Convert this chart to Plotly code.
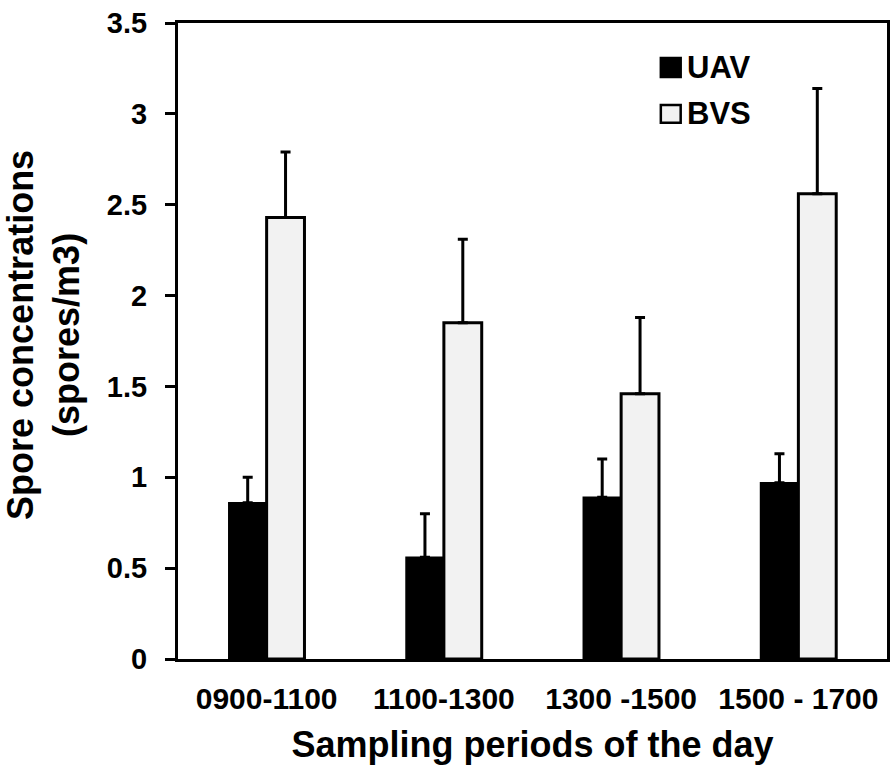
import plotly.graph_objects as go

# Sampling periods and mean spore concentrations (spores/m3) with upper error
periods = ["0900-1100", "1100-1300", "1300 -1500", "1500 - 1700"]
uav_mean = [0.86, 0.56, 0.89, 0.97]
uav_err = [0.14, 0.24, 0.21, 0.16]
bvs_mean = [2.43, 1.85, 1.46, 2.56]
bvs_err = [0.36, 0.46, 0.42, 0.58]

y_ticks = [0, 0.5, 1, 1.5, 2, 2.5, 3, 3.5]
y_tick_text = ["0", "0.5", "1", "1.5", "2", "2.5", "3", "3.5"]

series_names = ["UAV", "BVS"]

FONT = "Liberation Sans, Arial, sans-serif"
BVS_FILL = "#f2f2f2"


def upper_error(values):
    return dict(
        type="data",
        array=values,
        arrayminus=[0] * len(values),
        symmetric=False,
        color="black",
        thickness=3,
        width=5,
    )


fig = go.Figure()
fig.add_trace(go.Bar(
    x=periods, y=uav_mean, name=series_names[0],
    marker=dict(color="black", line=dict(color="black", width=1.5)),
    error_y=upper_error(uav_err),
))
fig.add_trace(go.Bar(
    x=periods, y=bvs_mean, name=series_names[1],
    marker=dict(color=BVS_FILL, line=dict(color="black", width=3)),
    error_y=upper_error(bvs_err),
))

# Legend drawn as boxed swatches with bold labels inside the plot frame
legend_rows = [
    (series_names[0], "black", 0.945, 0.915, 0.930),
    (series_names[1], BVS_FILL, 0.871, 0.843, 0.857),
]
for label, fill, y1, y0, ytxt in legend_rows:
    fig.add_shape(
        type="rect", xref="paper", yref="paper",
        x0=0.681, x1=0.709, y0=y0, y1=y1,
        fillcolor=fill, line=dict(color="black", width=2.5),
    )
    fig.add_annotation(
        x=0.715, y=ytxt, xref="paper", yref="paper",
        text=label, showarrow=False, xanchor="left", yanchor="middle",
        font=dict(family=FONT, size=31, color="black", weight="bold"),
    )

# Two-line vertical y-axis title
fig.add_annotation(
    x=-0.19, y=0.51, xref="paper", yref="paper",
    text="Spore concentrations<br>(spores/m3)",
    textangle=-90, showarrow=False,
    xanchor="center", yanchor="middle",
    font=dict(family=FONT, size=36, color="black", weight="bold"),
)

fig.update_layout(
    width=891, height=771,
    margin=dict(l=178, r=1, t=23, b=112),
    paper_bgcolor="white", plot_bgcolor="white",
    barmode="group", bargap=0.573, bargroupgap=0,
    showlegend=False,
    font=dict(family=FONT, color="black", weight="bold"),
)

fig.update_xaxes(
    type="category", range=[-0.5, 3.5],
    showline=True, linecolor="black", linewidth=3, mirror=True,
    ticks="", showgrid=False,
    tickfont=dict(family=FONT, size=30, color="black", weight="bold"),
    ticklabelstandoff=11,
    title=dict(
        text="Sampling periods of the day",
        font=dict(family=FONT, size=36, color="black", weight="bold"),
        standoff=18,
    ),
)

fig.update_yaxes(
    range=[0, 3.5],
    tickmode="array", tickvals=y_ticks, ticktext=y_tick_text,
    showline=True, linecolor="black", linewidth=3, mirror=True,
    ticks="outside", ticklen=10, tickwidth=3, tickcolor="black",
    showgrid=False, zeroline=False,
    tickfont=dict(family=FONT, size=29, color="black", weight="bold"),
    ticklabelstandoff=12,
)

fig.write_html("out.html")
